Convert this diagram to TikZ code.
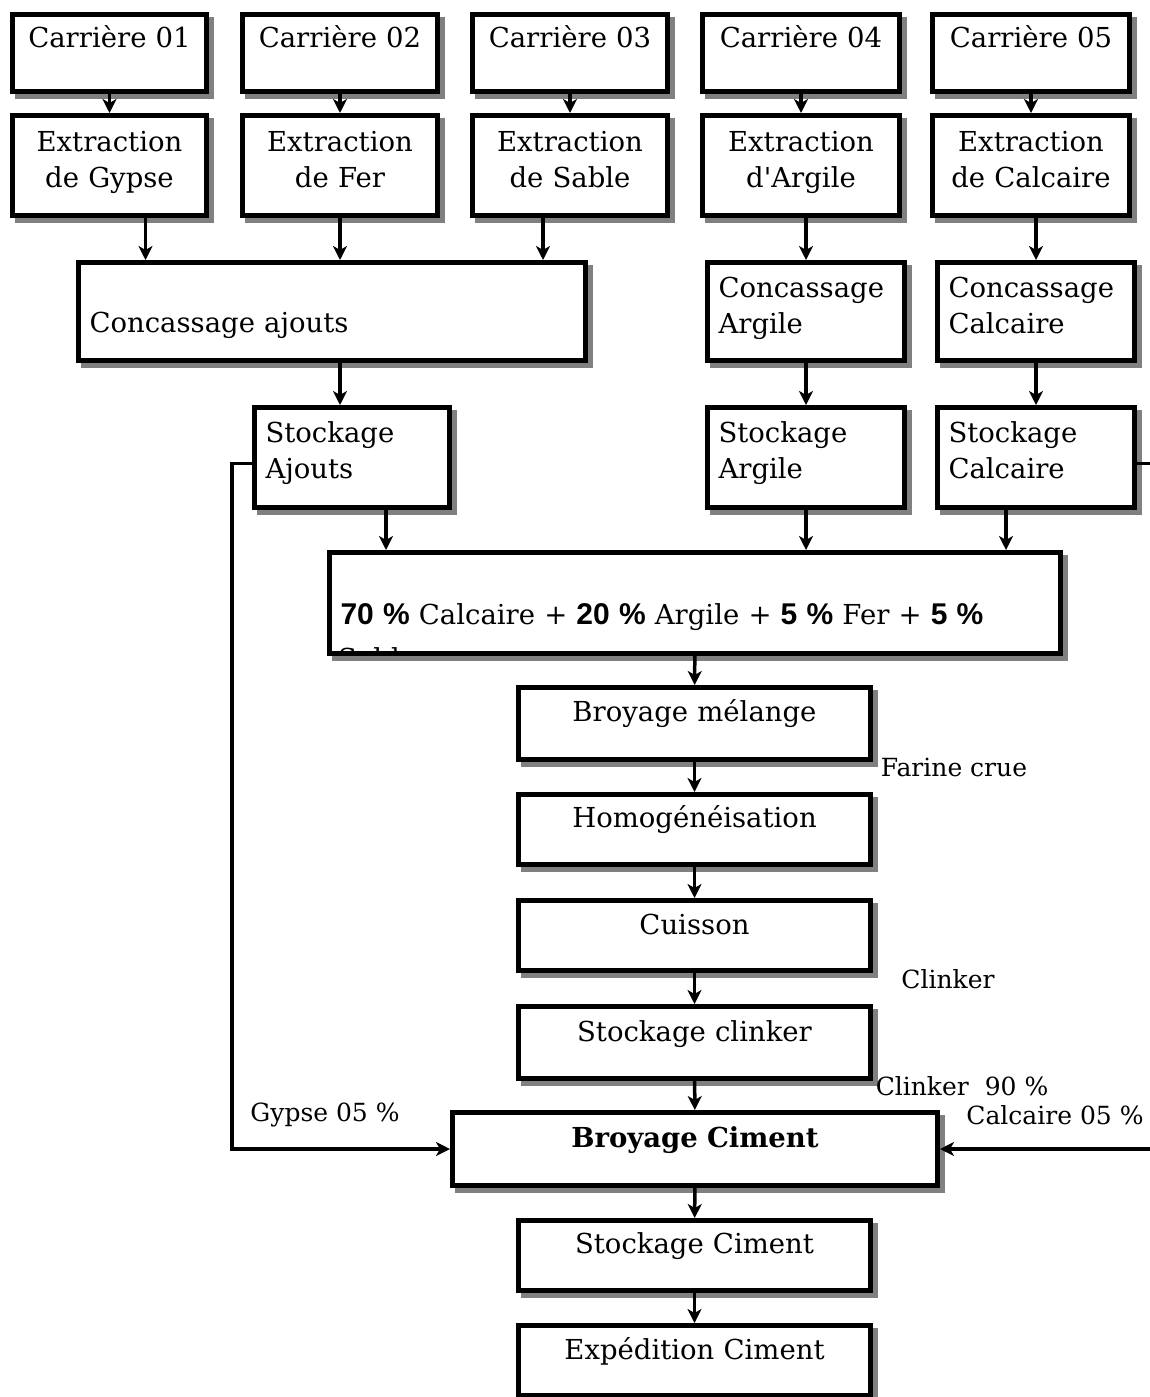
\documentclass[tikz,border=0pt]{standalone}
\usepackage{fontspec}
\setmainfont{DejaVu Serif}
\newfontfamily\pctfont{Liberation Sans}
\newcommand{\pct}[1]{{\pctfont\bfseries\fontsize{30}{36}\selectfont #1}}
\usetikzlibrary{arrows.meta,shadows}

\begin{document}
\begin{tikzpicture}
  [x=1pt,y=-1pt,
   box/.style={draw,line width=5pt,fill=white,anchor=north west,
     inner xsep=11pt,inner ysep=0pt,align=center,
     font=\fontsize{27.5}{36}\selectfont,
     drop shadow={shadow xshift=5pt,shadow yshift=-5pt,fill=gray,draw=gray,line width=5pt,opacity=1}},
   flow/.style={line width=3.5pt,-{Stealth[length=14pt,width=14pt,inset=4pt]}},
   note/.style={inner sep=0pt,font=\fontsize{25}{28}\selectfont}]
  \useasboundingbox (0,0) rectangle (1150,1397);

  % carrieres
  \node[box,text width=172pt,text height=33pt,text depth=44pt] (c1) at (10,12)  {Carrière 01};
  \node[box,text width=173pt,text height=33pt,text depth=44pt] (c2) at (240,12) {Carrière 02};
  \node[box,text width=173pt,text height=33pt,text depth=44pt] (c3) at (470,12) {Carrière 03};
  \node[box,text width=175pt,text height=33pt,text depth=44pt] (c4) at (700,12) {Carrière 04};
  \node[box,text width=175pt,text height=33pt,text depth=44pt] (c5) at (930,12) {Carrière 05};

  % extraction
  \node[box,text width=172pt,text height=36pt,text depth=64pt] (e1) at (10,113)  {Extraction\\de Gypse};
  \node[box,text width=173pt,text height=36pt,text depth=64pt] (e2) at (240,113) {Extraction\\de Fer};
  \node[box,text width=173pt,text height=36pt,text depth=64pt] (e3) at (470,113) {Extraction\\de Sable};
  \node[box,text width=175pt,text height=36pt,text depth=64pt] (e4) at (700,113) {Extraction\\d\textquotesingle Argile};
  \node[box,text width=175pt,text height=36pt,text depth=64pt] (e5) at (930,113) {Extraction\\de Calcaire};

  % concassage
  \node[box,align=left,text width=485pt,text height=70pt,text depth=28pt] (kaj) at (76,260)  {Concassage ajouts};
  \node[box,align=left,text width=175pt,text height=35pt,text depth=63pt] (kar) at (705,260) {Concassage\\Argile};
  \node[box,align=left,text width=175pt,text height=35pt,text depth=63pt] (kca) at (935,260) {Concassage\\Calcaire};

  % stockage
  \node[box,align=left,text width=173pt,text height=35pt,text depth=65pt] (saj) at (252,405) {Stockage\\Ajouts};
  \node[box,align=left,text width=175pt,text height=35pt,text depth=65pt] (sar) at (705,405) {Stockage\\Argile};
  \node[box,align=left,text width=175pt,text height=35pt,text depth=65pt] (sca) at (935,405) {Stockage\\Calcaire};

  % melange
  \node[box,align=left,text width=709pt,text height=72pt,text depth=29pt] (mix) at (327,550)
    {\pct{70 \%} Calcaire + \pct{20 \%} Argile + \pct{5 \%} Fer + \pct{5 \%}};
  \begin{scope}
    \clip ([shift={(2.5pt,2.5pt)}]mix.south west) rectangle ([shift={(-2.5pt,-2.5pt)}]mix.north east);
    \node[anchor=base west,inner sep=0pt,font=\fontsize{27.5}{36}\selectfont] (sab) at (338,668) {Sable};
  \end{scope}

  % ligne de cuisson
  \node[box,text width=330pt,text height=34pt,text depth=38pt] (bm) at (516,685)  {Broyage mélange};
  \node[box,text width=330pt,text height=33pt,text depth=37pt] (ho) at (516,792)  {Homogénéisation};
  \node[box,text width=330pt,text height=34pt,text depth=36pt] (cu) at (516,898)  {Cuisson};
  \node[box,text width=330pt,text height=35pt,text depth=37pt] (sk) at (516,1004) {Stockage clinker};
  \node[box,text width=463pt,text height=35pt,text depth=38pt] (bc) at (450,1110) {\bfseries Broyage Ciment};
  \node[box,text width=330pt,text height=33pt,text depth=37pt] (sc) at (516,1218) {Stockage Ciment};
  \node[box,text width=330pt,text height=34pt,text depth=36pt] (ex) at (516,1323) {Expédition Ciment};

  % notes
  \node[note] (n1) at (954,767)  {Farine crue};
  \node[note] (n2) at (948,979)  {Clinker};
  \node[note] (n3) at (962,1086) {Clinker\ \ 90 \%};
  \node[note] (n4) at (325,1115) {Gypse 05 \%};
  \node[note] (n5) at (1055,1115) {Calcaire 05 \%};

  \foreach \from/\to in {c1/e1,c2/e2,c3/e3,c4/e4,c5/e5,kar/sar,kca/sca,
      mix/bm,bm/ho,ho/cu,cu/sk,sk/bc,bc/sc,sc/ex}
    \draw[flow] (\from) -- (\to);

  \coordinate (a1) at ([xshift=36pt]e1.south);
  \coordinate (a3) at ([xshift=-27pt]e3.south);
  \coordinate (a6) at ([xshift=8pt]kaj.south);
  \coordinate (a7) at ([xshift=34pt]saj.south);
  \coordinate (a9) at ([xshift=-30pt]sca.south);
  \draw[flow] (a1) -- (a1 |- kaj.north);
  \draw[flow] (e2) -- (e2 |- kaj.north);
  \draw[flow] (a3) -- (a3 |- kaj.north);
  \draw[flow] (kar |- e4.south) -- (kar);
  \draw[flow] (kca |- e5.south) -- (kca);
  \draw[flow] (a6) -- (a6 |- saj.north);
  \draw[flow] (a7) -- (a7 |- mix.north);
  \draw[flow] (sar) -- (sar |- mix.north);
  \draw[flow] (a9) -- (a9 |- mix.north);

  % gypse et calcaire vers le broyeur
  \coordinate (g1) at ([yshift=-6pt]saj.west);
  \coordinate (k1) at ([yshift=-6pt]sca.east);
  \draw[flow] (g1) -- ++(-20,0) |- (bc.west);
  \draw[flow] (k1) -- ++(24,0) |- (bc.east);
\end{tikzpicture}
\end{document}
